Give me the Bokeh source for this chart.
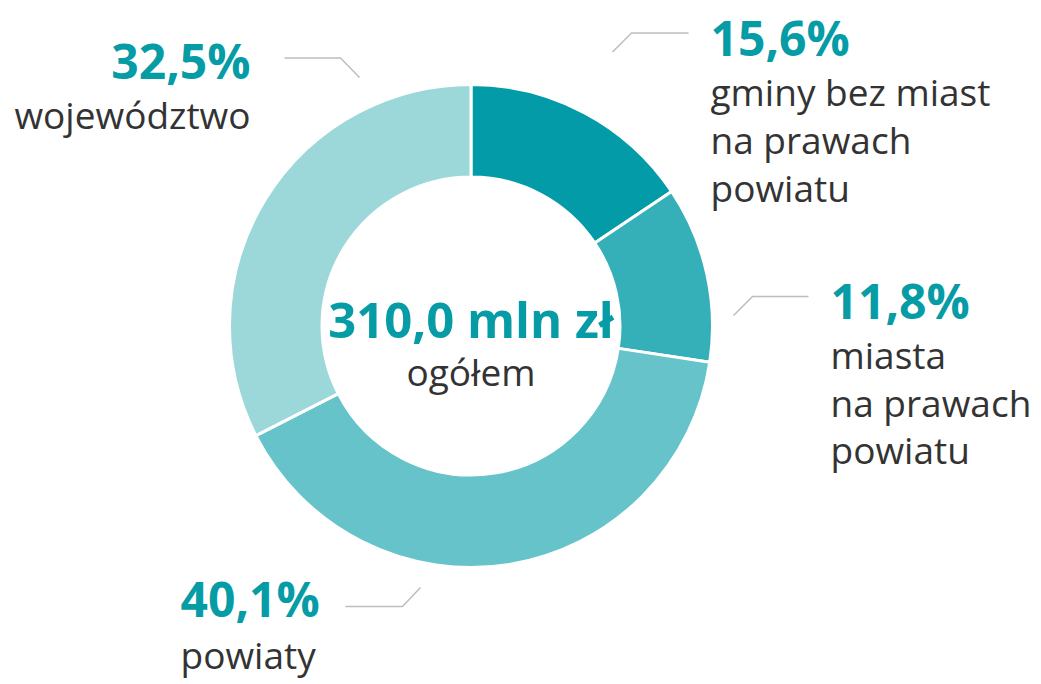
import math
from bokeh.plotting import figure
from bokeh.models import Range1d, ColumnDataSource
from bokeh.core.properties import value
from bokeh.embed import file_html
from bokeh.resources import INLINE

# ---- data ----
categories = ["gminy bez miast\nna prawach\npowiatu", "miasta\nna prawach\npowiatu", "powiaty", "województwo"]
shares = [15.6, 11.8, 40.1, 32.5]
pct_labels = ["15,6%", "11,8%", "40,1%", "32,5%"]
total_label = "310,0 mln zł"
total_sub = "ogółem"

# ---- style / layout ----
W, H = 1041, 684
colors = ["#039BA7", "#35AFB8", "#67C3CA", "#9CD7DA"]
teal = "#069CA6"
grey_text = "#333333"
line_col = "#BDBDBD"
FONT = "Open Sans"
cx, cy = 470.5, H - 325.5
r_in, r_out = 149, 241.5
PCT_SIZE, LBL_SIZE, TOT_SIZE = 48, 37, 49

def Y(px, size):
    # baseline in px from top -> data y, with correction for the renderer's baseline offset
    return H - (px - 0.42 * size)

# label layout per slice: (x, percent baseline px, align, first label line baseline px, line spacing)
label_layout = [
    (710, 57, "left", 107, 48),
    (830, 320, "left", 370, 47.5),
    (180, 618, "left", 670, 48),
    (250, 80, "right", 130, 48),
]
# leader lines per slice: (start x, start y, elbow x, end x, end y) in px
leader_layout = [
    (688, 32.5, 631, 612, 51.5),
    (808, 296, 752, 733, 315),
    (345, 606, 402, 420, 587),
    (284, 57.5, 340, 359, 77),
]

p = figure(width=W, height=H, output_backend="svg", toolbar_location=None,
           x_range=Range1d(0, W), y_range=Range1d(0, H), min_border=0)
p.axis.visible = False
p.grid.visible = False
p.outline_line_color = None
p.background_fill_color = "white"
p.border_fill_color = "white"

# wedges
total = sum(shares)
starts, ends = [], []
cum = 0.0
for s in shares:
    a0 = math.pi / 2 - 2 * math.pi * cum / total
    cum += s
    a1 = math.pi / 2 - 2 * math.pi * cum / total
    starts.append(a0)
    ends.append(a1)

src = ColumnDataSource(dict(x=[cx] * len(shares), y=[cy] * len(shares),
                            start=starts, end=ends, color=colors, cat=categories))
p.annular_wedge(x="x", y="y", inner_radius=r_in, outer_radius=r_out,
                start_angle="start", end_angle="end", direction="clock",
                fill_color="color", line_color="white", line_width=3, source=src)

# leader lines
xs, ys = [], []
for (sx, sy, ex, tx, ty) in leader_layout:
    xs.append([sx, ex, tx])
    ys.append([H - sy, H - sy, H - ty])
p.multi_line(xs=xs, ys=ys, line_color=line_col, line_width=1.5)

# percent labels and category labels
for i, pct in enumerate(pct_labels):
    x, py, align, ly, sp = label_layout[i]
    p.text(x=[x], y=[Y(py, PCT_SIZE)], text=[pct], text_font=value(FONT), text_font_style="bold",
           text_font_size=f"{PCT_SIZE}px", text_color=teal, text_align=align,
           text_baseline="alphabetic")
    for j, line in enumerate(categories[i].split("\n")):
        p.text(x=[x], y=[Y(ly + j * sp, LBL_SIZE)], text=[line], text_font=value(FONT),
               text_font_size=f"{LBL_SIZE}px", text_color=grey_text, text_align=align,
               text_baseline="alphabetic")

# center texts
p.text(x=[cx], y=[Y(339, TOT_SIZE)], text=[total_label], text_font=value(FONT), text_font_style="bold",
       text_font_size=f"{TOT_SIZE}px", text_color=teal, text_align="center", text_baseline="alphabetic")
p.text(x=[cx], y=[Y(387, LBL_SIZE)], text=[total_sub], text_font=value(FONT),
       text_font_size=f"{LBL_SIZE}px", text_color=grey_text, text_align="center", text_baseline="alphabetic")

open("out.html", "w").write(file_html(p, INLINE))
